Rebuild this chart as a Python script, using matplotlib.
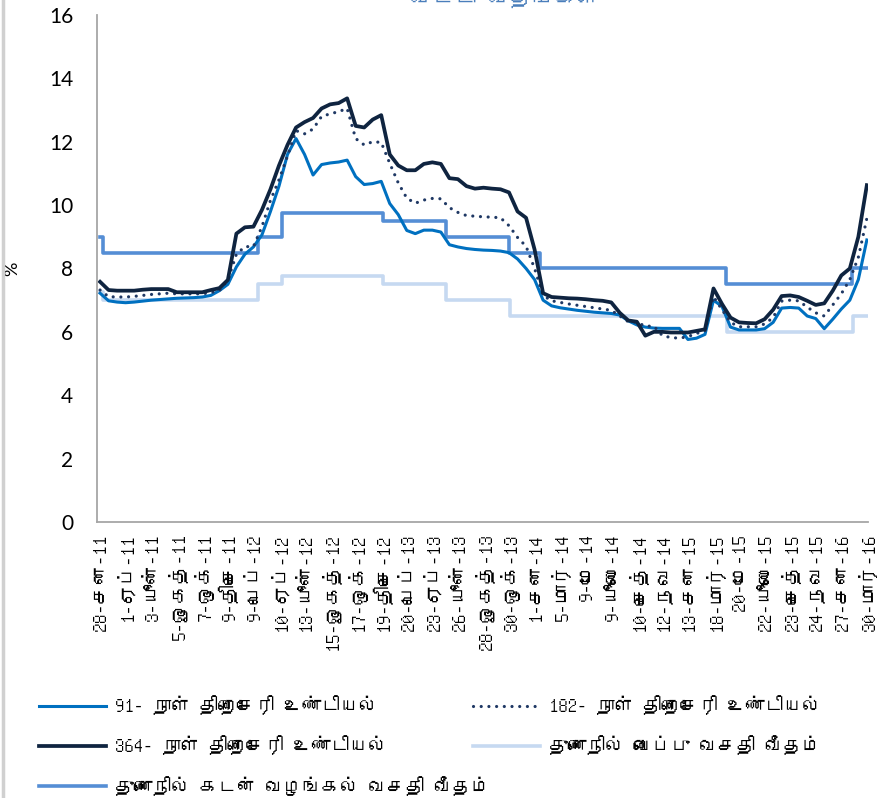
import numpy as np
import matplotlib
matplotlib.use("Agg")
import matplotlib.pyplot as plt
from matplotlib import font_manager
from matplotlib.ft2font import FT2Font
from matplotlib.lines import Line2D


def tamil_families():
    # installed families that carry Tamil glyphs
    found = []
    for f in font_manager.fontManager.ttflist:
        try:
            if 0x0BA8 in FT2Font(f.fname).get_charmap() and f.name not in found:
                found.append(f.name)
        except Exception:
            pass
    return found


TAMIL = tamil_families()
SERIF = TAMIL + ["Liberation Serif", "DejaVu Serif"]
SANS = ["Lato", "DejaVu Sans"]

# ---- data (weekly, every third point between labelled dates) ----
tick_labels = [
    "28-சன-11", "1-ஏப்-11", "3-யூன்-11", "5-ஓகத்-11", "7-ஒக்-11", "9-திசெ-11",
    "9-பெப்-12", "10-ஏப்-12", "13-யூன்-12", "15-ஓகத்-12", "17-ஒக்-12", "19-திசெ-12",
    "20-பெப்-13", "23-ஏப்-13", "26-யூன்-13", "28-ஓகத்-13", "30-ஒக்-13", "1-சன-14",
    "5-மார்-14", "9-மே-14", "9-யூலை-14", "10-செத்-14", "12-நவ-14", "13-சன-15",
    "18-மார்-15", "20-மே-15", "22-யூலை-15", "23-செத்-15", "24-நவ-15", "27-சன-16",
    "30-மார்-16",
]

tb91 = [
    7.22, 6.98, 6.94, 6.92, 6.94, 6.97, 7.00, 7.02, 7.04, 7.06,
    7.07, 7.08, 7.10, 7.15, 7.30, 7.50, 8.05, 8.45, 8.68, 9.06,
    9.80, 10.60, 11.60, 12.10, 11.60, 10.95, 11.28, 11.33, 11.36, 11.42,
    10.90, 10.65, 10.68, 10.75, 10.05, 9.70, 9.20, 9.10, 9.21, 9.21,
    9.15, 8.75, 8.68, 8.63, 8.60, 8.58, 8.57, 8.55, 8.50, 8.30,
    8.00, 7.65, 7.00, 6.82, 6.76, 6.72, 6.68, 6.65, 6.62, 6.60,
    6.58, 6.53, 6.35, 6.22, 6.15, 6.12, 6.11, 6.11, 6.11, 5.76,
    5.80, 5.92, 7.00, 6.80, 6.15, 6.06, 6.06, 6.06, 6.10, 6.30,
    6.75, 6.77, 6.75, 6.50, 6.42, 6.10, 6.40, 6.72, 7.00, 7.65,
    8.90,
]
tb182 = [
    7.32, 7.11, 7.10, 7.10, 7.12, 7.15, 7.18, 7.20, 7.22, 7.20,
    7.20, 7.20, 7.20, 7.24, 7.30, 7.64, 8.45, 8.69, 8.69, 9.32,
    10.15, 10.80, 11.55, 12.35, 12.25, 12.40, 12.80, 12.88, 12.95, 13.05,
    12.10, 11.90, 12.00, 11.98, 11.32, 10.70, 10.22, 10.06, 10.16, 10.21,
    10.20, 9.92, 9.77, 9.67, 9.65, 9.63, 9.62, 9.60, 9.35, 8.98,
    8.70, 8.00, 7.15, 6.98, 6.93, 6.88, 6.84, 6.80, 6.76, 6.72,
    6.68, 6.50, 6.32, 6.30, 6.18, 6.18, 5.88, 5.82, 5.80, 5.85,
    5.95, 6.03, 7.11, 6.70, 6.30, 6.16, 6.16, 6.16, 6.25, 6.45,
    6.97, 7.00, 6.98, 6.78, 6.60, 6.50, 6.85, 7.20, 7.65, 8.35,
    9.58,
]
tb364 = [
    7.58, 7.32, 7.30, 7.30, 7.30, 7.33, 7.35, 7.35, 7.35, 7.25,
    7.25, 7.25, 7.25, 7.32, 7.38, 7.64, 9.10, 9.30, 9.32, 9.85,
    10.50, 11.25, 11.90, 12.45, 12.62, 12.75, 13.05, 13.18, 13.22, 13.37,
    12.50, 12.45, 12.70, 12.84, 11.60, 11.25, 11.10, 11.10, 11.30, 11.35,
    11.30, 10.85, 10.82, 10.60, 10.52, 10.55, 10.52, 10.50, 10.40, 9.80,
    9.60, 8.60, 7.22, 7.10, 7.08, 7.06, 7.05, 7.03, 7.00, 6.98,
    6.93, 6.60, 6.36, 6.32, 5.88, 6.00, 6.00, 5.98, 5.98, 5.98,
    6.03, 6.08, 7.37, 6.88, 6.45, 6.30, 6.28, 6.27, 6.40, 6.70,
    7.13, 7.15, 7.10, 6.98, 6.85, 6.90, 7.30, 7.78, 8.00, 9.00,
    10.63,
]
x_tb = np.arange(len(tb91)) / 3.0

# standing facility rates: value holds from each change point on
slfr_at = [0, 0.12, 6.17, 7.10, 11.08, 13.52, 15.98, 17.22, 24.48, 29.40, 30]
slfr = [9.00, 8.50, 9.00, 9.75, 9.50, 9.00, 8.50, 8.00, 7.50, 8.00, 8.00]
sdfr_at = [0, 0.12, 6.17, 7.10, 11.08, 13.55, 16.05, 24.52, 29.45, 30]
sdfr = [7.25, 7.00, 7.50, 7.75, 7.50, 7.00, 6.50, 6.00, 6.50, 6.50]

names = [
    "91- நாள் திறைசேரி உண்டியல்",
    "182- நாள் திறைசேரி உண்டியல்",
    "364- நாள் திறைசேரி உண்டியல்",
    "துணைநில் வைப்பு வசதி வீதம்",
    "துணைநில் கடன் வழங்கல் வசதி வீதம்",
]
title = "வட்டி வீதங்கள்"

C91, C182, C364 = "#0070C0", "#1F3864", "#0F2440"
CSDFR, CSLFR = "#C6D9F1", "#558ED5"

fig = plt.figure(figsize=(8.77, 7.98), dpi=100)
ax = fig.add_axes([0.1106, 0.3459, 0.879, 0.6353])

ax.step(sdfr_at, sdfr, where="post", color=CSDFR, lw=2.6, label=names[3])
ax.step(slfr_at, slfr, where="post", color=CSLFR, lw=2.6, label=names[4])
ax.plot(x_tb, tb91, color=C91, lw=2.2, label=names[0])
ax.plot(x_tb, tb182, color=C182, lw=2.3, ls=(0, (0.01, 2.4)),
        dash_capstyle="round", label=names[1])
ax.plot(x_tb, tb364, color=C364, lw=2.7, label=names[2])

ax.set_xlim(-0.12, 30.04)
ax.set_ylim(0, 16)
ax.set_yticks(np.arange(0, 17, 2))
ax.set_yticklabels([str(v) for v in range(0, 17, 2)], family=SANS, fontsize=15)
ax.set_xticks(np.arange(len(tick_labels)))
ax.set_xticklabels(tick_labels, rotation=90, family=SERIF, fontsize=14)
ax.tick_params(axis="y", length=0, pad=17)
ax.tick_params(axis="x", length=0, pad=8)
ax.set_ylabel("%", family=SANS, fontsize=13)
ax.yaxis.set_label_coords(-0.1, 0.5)

for side in ("top", "right"):
    ax.spines[side].set_visible(False)
for side in ("left", "bottom"):
    ax.spines[side].set_color("#A6A6A6")
    ax.spines[side].set_linewidth(1.3)

# legend in two columns; the long last entry runs under the second column
h = {l.get_label(): l for l in ax.get_lines()}
leg_kw = dict(frameon=False, handlelength=3.6, handletextpad=0.45,
              labelspacing=1.1, loc="upper left", prop={"family": SERIF, "size": 13.5})
fig.legend([h[names[0]], h[names[2]], h[names[4]]], [names[0], names[2], names[4]],
           bbox_to_anchor=(0.025, 0.15), **leg_kw)
fig.legend([h[names[1]], h[names[3]]], [names[1], names[3]],
           bbox_to_anchor=(0.52, 0.15), **leg_kw)

# chart title sits mostly above the visible area
fig.text(0.575, 0.990, title, ha="center", va="bottom", color="#4A7EBB",
         fontsize=16, fontweight="bold", family=SERIF)
fig.add_artist(Line2D([0.003, 0.003], [0, 1], transform=fig.transFigure,
                      color="#D0D0D0", lw=2.5))

fig.savefig("out.png", dpi=100)
